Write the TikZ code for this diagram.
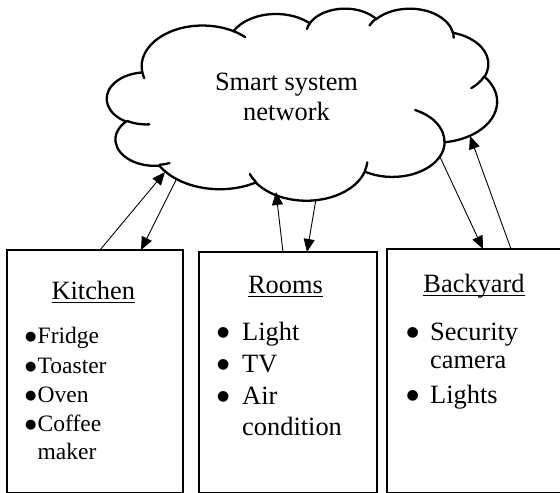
\documentclass[tikz,border=0pt]{standalone}
\usepackage{fontspec}
\setmainfont{Liberation Serif}
\newfontfamily\bulfont{DejaVu Sans}
\usetikzlibrary{arrows.meta}
\newcommand\ulword[1]{\setbox0\hbox{#1}\rlap{\rule[-4pt]{\wd0}{1.3pt}}\box0}
\newcommand\bigbul{\raisebox{3.2pt}{\bulfont\fontsize{14}{14}\selectfont ●}}
\newcommand\kitbul{\raisebox{2.4pt}{\bulfont\fontsize{13}{13}\selectfont ●}}
\newcommand\bigf{\fontsize{26.4}{30}\selectfont}
\newcommand\kitf{\fontsize{23.5}{28}\selectfont}
\tikzset{
  cloudline/.style={line width=2.3pt, line cap=round},
  roombox/.style={draw, line width=2.6pt, inner sep=0pt, outer sep=0pt},
  conn/.style={line width=0.9pt, -{Triangle[length=13pt,width=11pt]}},
  ttl/.style={inner sep=0pt, anchor=base, font=\bigf},
  item/.style={inner sep=0pt, anchor=base west, font=\bigf},
  kitem/.style={inner sep=0pt, anchor=base west, font=\kitf}
}
\begin{document}
\begin{tikzpicture}[x=1pt,y=-1pt]
\useasboundingbox (0,0) rectangle (560,493);
\clip (0,0) rectangle (560,493);
% cloud outline
\draw[cloudline] (142.21,71.87)
  arc[start angle=187.75, end angle=59.64, x radius=60.965pt, y radius=40.844pt]
  arc[start angle=152.02, end angle=45.44, x radius=48.145pt, y radius=32.298pt]
  arc[start angle=153.48, end angle=37.32, x radius=39.406pt, y radius=26.422pt]
  arc[start angle=139.72, end angle=10.22, x radius=43.848pt, y radius=29.311pt]
  arc[start angle=74.77, end angle=-23.21, x radius=48.145pt, y radius=32.324pt]
  arc[start angle=37.53, end angle=-81.9, x radius=61.163pt, y radius=40.978pt]
  arc[start angle=-0.46, end angle=-121.98, x radius=52.226pt, y radius=34.964pt]
  arc[start angle=-16.84, end angle=-146.23, x radius=60.956pt, y radius=40.956pt]
  arc[start angle=-58.98, end angle=-150.18, x radius=69.694pt, y radius=46.858pt]
  arc[start angle=-83.31, end angle=-223.12, x radius=39.361pt, y radius=26.302pt]
  arc[start angle=-120.36, end angle=-264.11, x radius=39.226pt, y radius=26.422pt]
  -- cycle;
% cloud inner hooks
\draw[cloudline] (149.37,124.34) arc[start angle=-85.54, end angle=-120.36, x radius=39.226pt, y radius=26.422pt];
\draw[cloudline] (169.54,163.11) arc[start angle=-68.24, end angle=-83.31, x radius=39.361pt, y radius=26.302pt];
\draw[cloudline] (255.76,181.73) arc[start angle=-146.23, end angle=-158.47, x radius=60.956pt, y radius=40.956pt];
\draw[cloudline] (367.25,162.45) arc[start angle=-4.74, end angle=-16.84, x radius=60.956pt, y radius=40.956pt];
\draw[cloudline] (415.11,110.02) arc[start angle=64.03, end angle=-0.46, x radius=52.226pt, y radius=34.964pt];
\draw[cloudline] (484.34,76.24) arc[start angle=-23.21, end angle=-49.64, x radius=48.145pt, y radius=32.324pt];
\draw[cloudline] (452.98,32.12) arc[start angle=10.22, end angle=-0.82, x radius=43.848pt, y radius=29.311pt];
\draw[cloudline] (369.51,25.56) arc[start angle=156.29, end angle=139.72, x radius=43.848pt, y radius=29.311pt];
\draw[cloudline] (306.88,28.98) arc[start angle=167.72, end angle=153.48, x radius=39.406pt, y radius=26.422pt];
\draw[cloudline] (233.39,31.08) arc[start angle=59.64, end angle=45.74, x radius=60.965pt, y radius=40.844pt];
\draw[cloudline] (144.26,78.17) arc[start angle=-163.19, end angle=-172.25, x radius=60.965pt, y radius=40.844pt];
% cloud text
\node[ttl] (net1) at (286.5,90) {Smart system};
\node[ttl] (net2) at (286.5,120) {network};
% cloud connection points
\coordinate (ck1) at (165,172);
\coordinate (ck2) at (177,178);
\coordinate (cr1) at (276,192);
\coordinate (cr2) at (316,199);
\coordinate (cb1) at (440,157);
\coordinate (cb2) at (470,136);
% boxes
\node[roombox, minimum width=176pt, minimum height=243pt] (kitchen) at (95,371.5) {};
\node[roombox, minimum width=178pt, minimum height=241pt] (rooms) at (288,372.5) {};
\node[roombox, minimum width=193pt, minimum height=244pt] (backyard) at (483.5,371) {};
% kitchen text
\node[ttl] (kt) at (93.3,299) {\ulword{Kitchen}};
\node[kitem] (k1) at (25,343) {\makebox[12.5pt][l]{\kitbul}Fridge};
\node[kitem] (k2) at (25,373) {\makebox[12.5pt][l]{\kitbul}Toaster};
\node[kitem] (k3) at (25,402) {\makebox[12.5pt][l]{\kitbul}Oven};
\node[kitem] (k4) at (25,431) {\makebox[12.5pt][l]{\kitbul}Coffee};
\node[kitem] (k5) at (37.5,459) {maker};
% rooms text
\node[ttl] (rt) at (285.5,293) {\ulword{Rooms}};
\node[item] (r1) at (217,340) {\makebox[25pt][l]{\bigbul}Light};
\node[item] (r2) at (217,372) {\makebox[25pt][l]{\bigbul}TV};
\node[item] (r3) at (217,404) {\makebox[25pt][l]{\bigbul}Air};
\node[item] (r4) at (242,435) {condition};
% backyard text
\node[ttl] (bt) at (474,292) {\ulword{Backyard}};
\node[item] (b1) at (406.5,340) {\makebox[23.5pt][l]{\bigbul}Security};
\node[item] (b2) at (430,368) {camera};
\node[item] (b3) at (406.5,403) {\makebox[23.5pt][l]{\bigbul}Lights};
% connectors
\draw[conn] ([xshift=93pt]kitchen.north west) -- (ck1);
\draw[conn] (ck2) -- ([xshift=134pt]kitchen.north west);
\draw[conn] ([xshift=84pt]rooms.north west) -- (cr1);
\draw[conn] (cr2) -- ([xshift=108pt]rooms.north west);
\draw[conn] (cb1) -- ([xshift=96pt]backyard.north west);
\draw[conn] ([xshift=124pt]backyard.north west) -- (cb2);
\end{tikzpicture}
\end{document}
